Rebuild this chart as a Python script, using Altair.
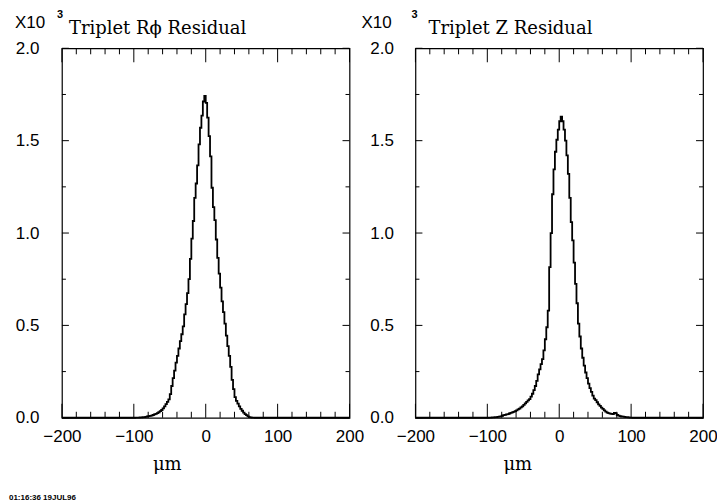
import altair as alt
import pandas as pd

W, H = 288, 370

# histogram bins: 2 um wide, lower edges from -200 to 198
bin_lo = list(range(-200, 200, 2))

# Triplet R-phi residual counts per 2 um bin
rphi_counts = [
    0, 0, 0, 0, 0, 0, 0, 0, 0, 0,
    0, 0, 0, 0, 0, 0, 0, 0, 0, 0,
    0, 0, 0, 0, 0, 0, 0, 0, 0, 0,
    0, 0, 0, 0, 1, 0, 0, 0, 0, 0,
    0, 0, 1, 0, 0, 0, 1, 0, 0, 1,
    0, 1, 1, 1, 2, 2, 3, 4, 5, 7,
    9, 10, 12, 15, 18, 21, 25, 30, 36, 42,
    51, 62, 74, 86, 100, 128, 172, 215, 255, 298,
    335, 375, 415, 452, 495, 560, 615, 675, 750, 860,
    970, 1065, 1190, 1268, 1366, 1480, 1570, 1636, 1712, 1742,
    1705, 1625, 1525, 1415, 1245, 1140, 1070, 965, 865, 780,
    705, 630, 572, 510, 445, 388, 335, 275, 205, 155,
    112, 92, 77, 62, 48, 38, 28, 20, 14, 8,
    4, 2, 1, 1, 0, 1, 0, 0, 0, 0,
    0, 0, 1, 0, 0, 0, 0, 0, 0, 0,
    0, 0, 0, 0, 0, 0, 0, 0, 0, 0,
    0, 0, 0, 0, 0, 0, 0, 0, 0, 0,
    0, 0, 0, 0, 0, 0, 0, 0, 0, 0,
    0, 0, 0, 0, 0, 0, 0, 0, 0, 0,
    0, 0, 0, 0, 0, 0, 0, 0, 0, 0,
]

# Triplet Z residual counts per 2 um bin
z_counts = [
    0, 0, 0, 0, 0, 0, 0, 0, 0, 0,
    0, 0, 0, 0, 0, 0, 0, 0, 0, 0,
    0, 0, 0, 0, 0, 0, 0, 0, 0, 0,
    0, 0, 0, 0, 0, 0, 0, 1, 0, 0,
    0, 1, 0, 0, 1, 0, 0, 1, 0, 1,
    0, 1, 1, 2, 2, 3, 4, 5, 6, 8,
    11, 14, 16, 18, 20, 23, 26, 29, 32, 36,
    40, 45, 50, 56, 62, 70, 78, 86, 94, 101,
    115, 130, 150, 172, 200, 235, 262, 290, 318, 365,
    425, 490, 580, 815, 1000, 1210, 1345, 1440, 1505, 1560,
    1605, 1630, 1605, 1560, 1500, 1420, 1320, 1190, 1059, 960,
    840, 725, 620, 510, 440, 375, 325, 282, 245, 215,
    185, 160, 140, 120, 104, 95, 84, 72, 64, 55,
    48, 40, 33, 28, 25, 22, 21, 20, 26, 24,
    15, 12, 9, 7, 6, 5, 4, 3, 2, 1,
    1, 0, 1, 0, 0, 1, 0, 0, 0, 0,
    0, 0, 0, 0, 0, 0, 0, 0, 1, 0,
    0, 0, 0, 0, 0, 0, 0, 0, 0, 0,
    0, 0, 0, 0, 0, 0, 0, 0, 0, 0,
    0, 0, 0, 0, 0, 0, 0, 0, 0, 0,
]

x_major = [-200, -100, 0, 100, 200]
x_minor = [-180, -160, -140, -120, -80, -60, -40, -20,
           20, 40, 60, 80, 120, 140, 160, 180]
y_major = [0.0, 0.5, 1.0, 1.5, 2.0]
y_minor = [0.25, 0.75, 1.25, 1.75]

LABEL_FONT = "Liberation Sans"
SERIF = "DejaVu Serif"

xscale = alt.Scale(domain=[-200, 200], nice=False, zero=False)
yscale = alt.Scale(domain=[0, 2], nice=False, zero=False)


def hist_df(counts):
    xs = bin_lo + [200]
    ys = [c / 1000 for c in counts] + [counts[-1] / 1000]
    return pd.DataFrame({"x": xs, "y": ys})


def text_layer(txt, x, y, size, font, weight="normal"):
    return alt.Chart(pd.DataFrame({"t": [txt]})).mark_text(
        align="left", baseline="alphabetic", font=font, fontSize=size,
        fontWeight=weight, color="black"
    ).encode(x=alt.value(x), y=alt.value(y), text="t:N")


def panel(counts, title, o, footer=None):
    x_axis = alt.Axis(
        values=x_major, format="d", ticks=False, tickSize=0, domain=False,
        grid=False, labelFont=LABEL_FONT, labelFontSize=17, labelColor="black",
        labelPadding=11, labelFlush=False, labelOverlap=False,
        title="μm", titleFont=SERIF, titleFontSize=18, titleFontWeight="normal",
        titleColor="black", titleX=o["tx"], titleY=52, titleAlign="center",
        titleBaseline="alphabetic",
    )
    y_axis = alt.Axis(
        values=y_major, format=".1f", ticks=False, tickSize=0, domain=False,
        grid=False, labelFont=LABEL_FONT, labelFontSize=17, labelColor="black",
        labelPadding=o["lp"], labelFlush=False, labelOverlap=False, title=None,
    )
    xe = alt.X("x:Q", scale=xscale, axis=x_axis)
    ye = alt.Y("y:Q", scale=yscale, axis=y_axis)

    line = alt.Chart(hist_df(counts)).mark_line(
        interpolate="step-after", color="black", strokeWidth=1.8
    ).encode(x=xe, y=ye)

    layers = [line]
    for vals, ln in ((x_major, 14), (x_minor, 6)):
        d = pd.DataFrame({"x": vals})
        layers.append(alt.Chart(d).mark_rule(color="black", strokeWidth=1).encode(
            x=xe, y=alt.value(H), y2=alt.value(H - ln)))
        layers.append(alt.Chart(d).mark_rule(color="black", strokeWidth=1).encode(
            x=xe, y=alt.value(0), y2=alt.value(ln)))
    for vals, ln in ((y_major, 7), (y_minor, 4)):
        d = pd.DataFrame({"y": vals})
        layers.append(alt.Chart(d).mark_rule(color="black", strokeWidth=1).encode(
            y=ye, x=alt.value(0), x2=alt.value(ln)))
        layers.append(alt.Chart(d).mark_rule(color="black", strokeWidth=1).encode(
            y=ye, x=alt.value(W), x2=alt.value(W - ln)))

    layers.append(text_layer("X10", o["x10"], -20, 17, LABEL_FONT))
    layers.append(text_layer("3", o["sup"], -30, 11, LABEL_FONT, "bold"))
    layers.append(text_layer(title, o["title"], -14, 18, SERIF))
    if footer:
        layers.append(text_layer(footer, -53, 452, 8, LABEL_FONT, "bold"))

    return alt.layer(*layers).properties(width=W, height=H)


left = panel(rphi_counts, "Triplet Rϕ Residual",
             {"tx": 105, "lp": 23, "x10": -47, "sup": -5, "title": 7},
             footer="01:16:36  19JUL96")
right = panel(z_counts, "Triplet Z Residual",
              {"tx": 102, "lp": 22, "x10": -54, "sup": -4, "title": 13})

chart = alt.hconcat(left, right, spacing=66, bounds="flush").properties(
    padding={"left": 0, "top": 0, "right": -1, "bottom": 0},
    background="white",
).configure_view(stroke="black", strokeWidth=1.2)

chart.save("out.html", embed_options={"renderer": "svg", "actions": False})
